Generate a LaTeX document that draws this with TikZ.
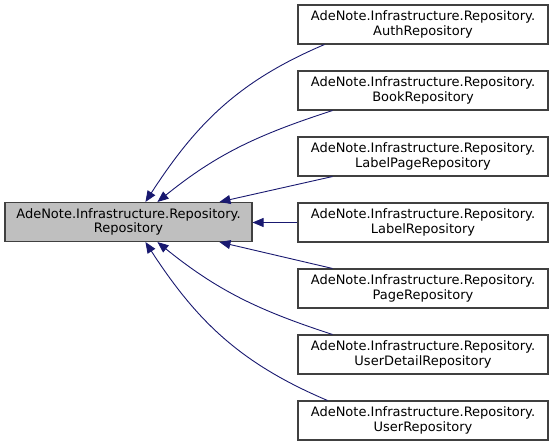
\documentclass[tikz,border=0pt]{standalone}
\usepackage{fontspec}
\setmainfont{DejaVu Sans}
\usetikzlibrary{arrows.meta}
\definecolor{edgeblue}{HTML}{191970}
\definecolor{boxline}{HTML}{404040}

\begin{document}
\begin{tikzpicture}[x=1pt,y=-1pt,>={Triangle[length=11pt,width=9pt]},
  font=\fontsize{13}{14.5}\selectfont,
  cls/.style={draw=boxline,line width=1.1pt,fill=white,minimum width=250pt,minimum height=39pt,inner sep=0pt,align=center},
  inh/.style={->,draw=edgeblue,line width=0.9pt}]
\useasboundingbox (0,0) rectangle (552,444);
\node[cls,minimum width=247pt,fill=black!25] (repo) at (128.5,222) {AdeNote.Infrastructure.Repository.\\Repository};
\node[cls] (auth) at (423,24.5) {AdeNote.Infrastructure.Repository.\\AuthRepository};
\node[cls] (book) at (423,90.5) {AdeNote.Infrastructure.Repository.\\BookRepository};
\node[cls] (labelpage) at (423,156.5) {AdeNote.Infrastructure.Repository.\\LabelPageRepository};
\node[cls] (label) at (423,222.5) {AdeNote.Infrastructure.Repository.\\LabelRepository};
\node[cls] (page) at (423,288.5) {AdeNote.Infrastructure.Repository.\\PageRepository};
\node[cls] (userdetail) at (423,354.5) {AdeNote.Infrastructure.Repository.\\UserDetailRepository};
\node[cls] (user) at (423,420.5) {AdeNote.Infrastructure.Repository.\\UserRepository};
% derived classes point back to the base
\draw[inh] ([xshift=27pt]auth.south west) to[out=203,in=57] ([xshift=141pt]repo.north west);
\draw[inh] ([xshift=35pt]book.south west) to[out=198,in=39] ([xshift=153pt]repo.north west);
\draw[inh] ([xshift=35pt]labelpage.south west) -- ([xshift=215pt]repo.north west);
\draw[inh] (label.west) -- (label.west -| repo.east);
\draw[inh] ([xshift=35pt]page.north west) -- ([xshift=215pt]repo.south west);
\draw[inh] ([xshift=35pt]userdetail.north west) to[out=162,in=-39] ([xshift=153pt]repo.south west);
\draw[inh] ([xshift=30pt]user.north west) to[out=157,in=-57] ([xshift=141pt]repo.south west);
\end{tikzpicture}
\end{document}
